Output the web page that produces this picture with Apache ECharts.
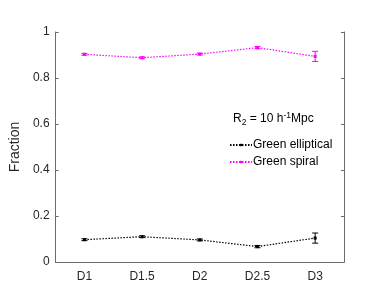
<!DOCTYPE html>
<html><head><meta charset="utf-8">
<script src="https://cdn.jsdelivr.net/npm/echarts@6/dist/echarts.min.js"></script>
<style>html,body{margin:0;padding:0;background:#fff}#c{width:382px;height:305px}</style>
</head><body><div id="c"></div>
<script>
const categories = ['D1','D1.5','D2','D2.5','D3'];
const ellipticalValues = [0.097, 0.110, 0.096, 0.067, 0.104];
const ellipticalErrors = [0.004, 0.004, 0.004, 0.005, 0.022];
const spiralValues = [0.903, 0.888, 0.904, 0.932, 0.894];
const spiralErrors = [0.004, 0.004, 0.004, 0.005, 0.022];
const yTicks = [0, 0.2, 0.4, 0.6, 0.8, 1];

const font = 'Liberation Sans, Arial, sans-serif';
const axisColor = '#262626';
const boxColor = '#6b6b6b';

function errSeries(name, vals, errs, color) {
  return {
    type: 'custom', name: name + ' err', silent: true, z: 5,
    data: vals.map((v, i) => [i, v - errs[i], v + errs[i]]),
    renderItem: function (params, api) {
      const lo = api.coord([api.value(0), api.value(1)]);
      const hi = api.coord([api.value(0), api.value(2)]);
      const w = 3;
      const st = { stroke: color, lineWidth: 1 };
      return { type: 'group', children: [
        { type: 'line', shape: { x1: lo[0], y1: lo[1], x2: hi[0], y2: hi[1] }, style: st },
        { type: 'line', shape: { x1: lo[0]-w, y1: lo[1], x2: lo[0]+w, y2: lo[1] }, style: st },
        { type: 'line', shape: { x1: hi[0]-w, y1: hi[1], x2: hi[0]+w, y2: hi[1] }, style: st }
      ]};
    }
  };
}

const chart = echarts.init(document.getElementById('c'), null, { renderer: 'canvas' });
chart.setOption({
  animation: false,
  backgroundColor: '#fff',
  textStyle: { fontFamily: font },
  grid: { left: 52, right: 38, top: 32, bottom: 43 },
  title: {
    left: 228, top: 106,
    text: '{a|R}{sub|2}{a| = 10 h}{sup|-1}{a|Mpc}',
    textStyle: {
      fontWeight: 'normal',
      rich: {
        a: { fontSize: 12, color: '#000', fontFamily: font, fontWeight: 'normal' },
        sub: { fontSize: 8.5, color: '#000', fontFamily: font, fontWeight: 'normal', verticalAlign: 'bottom', padding: [7, 0, 0, 0] },
        sup: { fontSize: 8.5, color: '#000', fontFamily: font, fontWeight: 'normal', verticalAlign: 'top', padding: [0, 0, 7, 0] }
      }
    }
  },
  legend: {
    left: 224, top: 134, orient: 'vertical', itemWidth: 22, itemHeight: 3, itemGap: 5,
    data: ['Green elliptical', 'Green spiral'],
    textStyle: { fontSize: 12, color: '#000', fontFamily: font, padding: [0, 0, 0, -4] }
  },
  xAxis: [{
    type: 'category', data: categories, boundaryGap: true,
    axisLine: { lineStyle: { color: boxColor, width: 1 } },
    axisTick: { inside: true, alignWithLabel: true, length: 3, lineStyle: { color: boxColor } },
    axisLabel: { fontSize: 12, color: axisColor, margin: 9, fontFamily: font },
    splitLine: { show: false }
  }, {
    type: 'category', data: categories, boundaryGap: true, position: 'top',
    axisLine: { show: true, lineStyle: { color: boxColor, width: 1 } },
    axisTick: { inside: true, alignWithLabel: true, length: 3, lineStyle: { color: boxColor } },
    axisLabel: { show: false }
  }],
  yAxis: [{
    type: 'value', min: 0, max: 1, interval: 0.2,
    name: 'Fraction', nameLocation: 'middle', nameGap: 30,
    nameTextStyle: { fontSize: 14, color: axisColor, fontFamily: font },
    axisLine: { show: true, lineStyle: { color: boxColor, width: 1 } },
    axisTick: { show: true, inside: true, length: 3, lineStyle: { color: boxColor } },
    axisLabel: { fontSize: 12, color: axisColor, margin: 6, fontFamily: font,
      formatter: v => yTicks.includes(Math.round(v*10)/10) ? String(Math.round(v*10)/10) : '' },
    splitLine: { show: false }
  }, {
    type: 'value', min: 0, max: 1, interval: 0.2, position: 'right',
    axisLine: { show: true, lineStyle: { color: boxColor, width: 1 } },
    axisTick: { show: true, inside: true, length: 3, lineStyle: { color: boxColor } },
    axisLabel: { show: false }, splitLine: { show: false }
  }],
  series: [
    {
      name: 'Green elliptical', type: 'line', data: ellipticalValues,
      symbol: 'rect', symbolSize: 3, showSymbol: true,
      lineStyle: { color: '#000', width: 1.2, type: [1.5, 1.5] },
      itemStyle: { color: '#000' }, z: 4
    },
    {
      name: 'Green spiral', type: 'line', data: spiralValues,
      symbol: 'rect', symbolSize: 3, showSymbol: true,
      lineStyle: { color: '#ff00ff', width: 1.2, type: [1.5, 1.5] },
      itemStyle: { color: '#ff00ff' }, z: 4
    },
    errSeries('Green elliptical', ellipticalValues, ellipticalErrors, '#000'),
    errSeries('Green spiral', spiralValues, spiralErrors, '#ff00ff')
  ]
});
</script></body></html>
